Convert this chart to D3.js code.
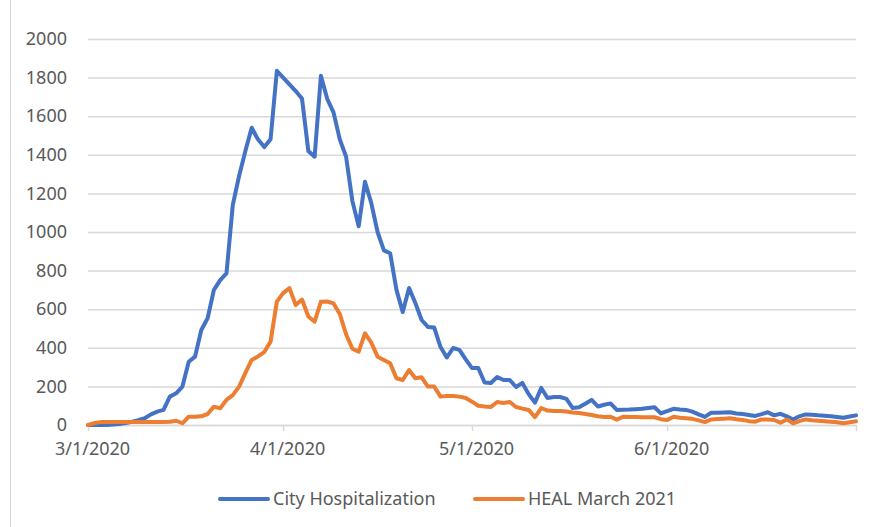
<!DOCTYPE html>
<html>
<head>
<meta charset="utf-8">
<script src="https://cdn.jsdelivr.net/npm/d3@7"></script>
<style>
  body { margin: 0; background: #fff; }
  #chart { width: 871px; height: 527px; }
  .tick text { font-family: "Noto Sans", sans-serif; font-size: 18px; fill: #595959; }
</style>
</head>
<body>
<div id="chart"></div>
<script>
// days 3/1/2020 .. 7/1/2020
const startDate = new Date(2020, 2, 1);
const endDate = new Date(2020, 6, 1);
const dates = d3.timeDay.range(startDate, d3.timeDay.offset(endDate, 1));

const cityHosp = [
    0, 0, 0, 0, 2, 5, 10, 17, 25, 35,
    55, 69, 78, 147, 164, 199, 328, 354, 492, 553,
    700, 751, 786, 1140, 1290, 1420, 1540, 1480, 1440, 1480,
    1835, 1800, 1765, 1730, 1690, 1420, 1390, 1810, 1690, 1620,
    1480, 1390, 1160, 1030, 1260, 1150, 1000, 905, 890, 700,
    585, 710, 632, 544, 508, 505, 404, 350, 399, 389,
    340, 295, 295, 220, 218, 249, 233, 233, 197, 218,
    160, 116, 192, 140, 145, 145, 135, 88, 92, 110,
    130, 96, 105, 112, 78, 79, 80, 82, 84, 88,
    92, 60, 72, 84, 80, 78, 69, 55, 42, 64,
    64, 65, 66, 60, 57, 52, 47, 56, 66, 50,
    58, 45, 28, 45, 55, 53, 50, 48, 45, 42,
    38, 44, 50
];

const heal = [
    0, 10, 15, 15, 15, 15, 15, 15, 15, 15,
    15, 15, 16, 17, 22, 9, 43, 43, 45, 57,
    95, 86, 130, 155, 199, 270, 337, 355, 378, 432,
    639, 683, 709, 622, 650, 562, 535, 639, 640, 630,
    575, 470, 395, 380, 475, 427, 354, 337, 320, 242,
    233, 285, 242, 247, 199, 199, 147, 150, 150, 147,
    140, 121, 100, 96, 93, 119, 114, 119, 93, 85,
    78, 41, 88, 75, 73, 73, 70, 65, 62, 57,
    52, 45, 42, 43, 28, 43, 42, 41, 40, 40,
    40, 30, 26, 43, 38, 35, 32, 24, 15, 29,
    31, 33, 35, 30, 26, 20, 17, 29, 28, 26,
    12, 29, 9, 20, 29, 25, 22, 20, 17, 14,
    9, 14, 19
];

const seriesNames = ["City Hospitalization", "HEAL March 2021"];
const seriesColors = ["#4472C4", "#ED7D31"];
const yTicks = [0, 200, 400, 600, 800, 1000, 1200, 1400, 1600, 1800, 2000];
const xTicks = [new Date(2020, 2, 1), new Date(2020, 3, 1), new Date(2020, 4, 1), new Date(2020, 5, 1), new Date(2020, 6, 1)];

const W = 871, H = 527;
const margin = {top: 39, right: 15, bottom: 102, left: 88};
const width = W - margin.left - margin.right;
const height = H - margin.top - margin.bottom;

const svg = d3.select("#chart").append("svg")
    .attr("width", W)
    .attr("height", H);

// chart area border (left edge visible)
svg.append("line")
    .attr("x1", 10.5).attr("x2", 10.5)
    .attr("y1", 0).attr("y2", H)
    .attr("stroke", "#d9d9d9")
    .attr("stroke-width", 1);

const g = svg.append("g").attr("transform", `translate(${margin.left},${margin.top})`);

const x = d3.scaleTime().domain([startDate, endDate]).range([0, width]);
const y = d3.scaleLinear().domain([0, 2000]).range([height, 0]);

// gridlines
g.append("g")
    .attr("class", "grid")
    .call(d3.axisLeft(y).tickValues(yTicks).tickSize(-width).tickFormat(""))
    .call(s => s.select(".domain").remove())
    .call(s => s.selectAll("line").attr("stroke", "#d9d9d9").attr("stroke-width", 1.5));

// y labels
g.append("g")
    .call(d3.axisLeft(y).tickValues(yTicks).tickSize(0).tickPadding(21).tickFormat(d3.format("d")))
    .call(s => s.select(".domain").remove());

// x axis
const fmt = d3.timeFormat("%-m/%-d/%Y");
g.append("g")
    .attr("transform", `translate(0,${height})`)
    .call(d3.axisBottom(x).tickValues(xTicks).tickSize(6).tickSizeOuter(0).tickPadding(11)
        .tickFormat(d => d.getMonth() === 6 ? "" : fmt(d)))
    .call(s => s.select(".domain").attr("stroke", "#d9d9d9").attr("stroke-width", 1.5))
    .call(s => s.selectAll(".tick line").attr("stroke", "#d9d9d9").attr("stroke-width", 1.5))
    .call(s => s.selectAll(".tick text").attr("dx", 4));

// lines
const series = [cityHosp, heal];
const line = d3.line()
    .x((d, i) => x(dates[i]))
    .y(d => y(d));

series.forEach((vals, si) => {
    g.append("path")
        .datum(vals)
        .attr("fill", "none")
        .attr("stroke", seriesColors[si])
        .attr("stroke-width", 4)
        .attr("stroke-linejoin", "round")
        .attr("stroke-linecap", "round")
        .attr("d", line);
});

// legend
const legendX = [220, 475];
const legend = svg.append("g").attr("transform", "translate(0,499)");
seriesNames.forEach((name, i) => {
    legend.append("line")
        .attr("x1", legendX[i]).attr("x2", legendX[i] + 48)
        .attr("y1", 0).attr("y2", 0)
        .attr("stroke", seriesColors[i])
        .attr("stroke-width", 4)
        .attr("stroke-linecap", "round");
    legend.append("text")
        .attr("x", legendX[i] + 53)
        .attr("y", 0)
        .attr("dy", "0.35em")
        .style("font-family", "'Noto Sans', sans-serif")
        .style("font-size", "18px")
        .style("fill", "#595959")
        .text(name);
});
</script>
</body>
</html>
